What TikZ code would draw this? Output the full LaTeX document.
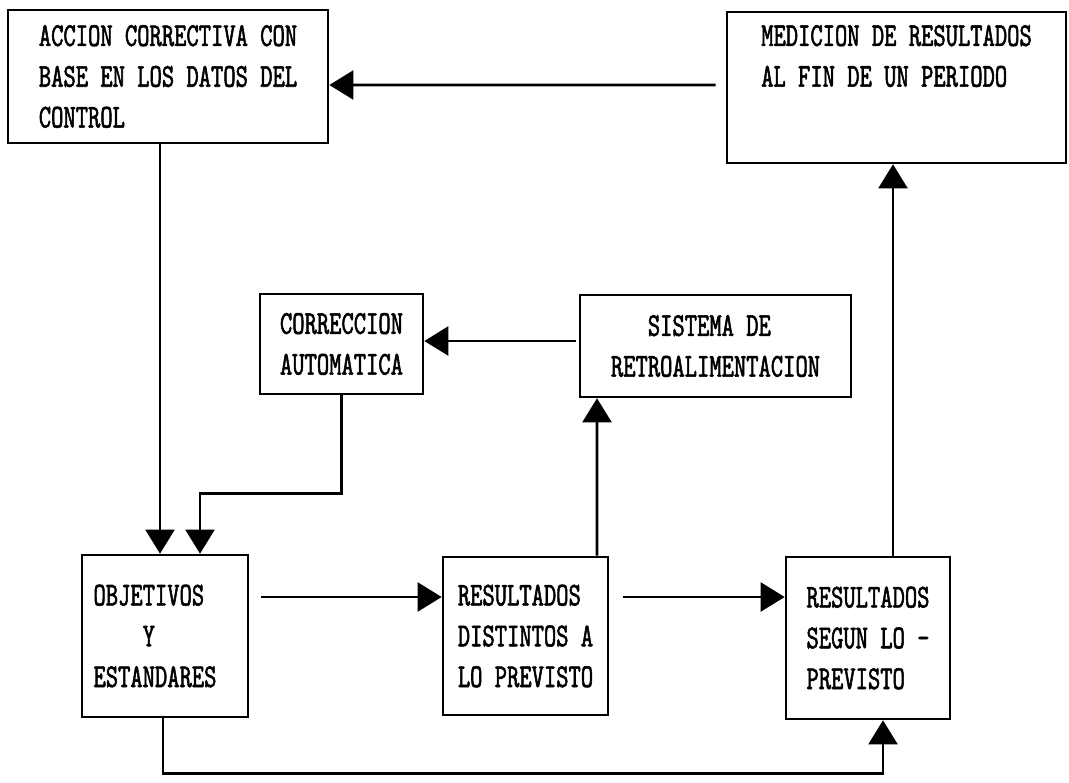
\documentclass[tikz,border=0pt]{standalone}
\usepackage{fontspec}
\setmonofont[FakeStretch=0.7,FakeBold=1.6]{lmmono10-regular.otf}
\usetikzlibrary{arrows.meta}

\begin{document}
\begin{tikzpicture}[x=0.025cm, y=-0.025cm,
	block/.style={draw, rectangle, line width=1.8pt, align=left, inner sep=0pt, font=\ttfamily\fontsize{23.8}{29}\selectfont},
	flow/.style={-{Triangle[length=0.6cm,width=0.72cm]}, line width=2pt}]
	\useasboundingbox (0,0) rectangle (1069,782);

	\node[block, minimum width=8cm, minimum height=3.325cm] (acc) at (168,76.5) {ACCION CORRECTIVA CON\\BASE EN LOS DATOS DEL\\CONTROL};
	\node[block, minimum width=8.475cm, minimum height=3.775cm] (med) at (896.5,87.5) {MEDICION DE RESULTADOS\\AL FIN DE UN PERIODO\\[16pt]\mbox{}};
	\node[block, minimum width=4.075cm, minimum height=2.5cm] (corr) at (341.5,344) {CORRECCION\\AUTOMATICA};
	\node[block, minimum width=6.775cm, minimum height=2.55cm] (sist) at (715.5,346) {\phantom{XXX}SISTEMA DE\\RETROALIMENTACION};
	\node[block, minimum width=4.15cm, minimum height=4.05cm] (obj) at (165,636) {OBJETIVOS\\\phantom{XXXX}Y\\ESTANDARES\hspace*{0.5cm}};
	\node[block, minimum width=4.125cm, minimum height=3.95cm] (dist) at (525.5,636) {RESULTADOS\\DISTINTOS A\\LO PREVISTO};
	\node[block, minimum width=4.1cm, minimum height=4.05cm] (segun) at (868,638) {RESULTADOS\\SEGUN LO -\\PREVISTO};

	\draw[flow] ([shift={(-10,-2.5)}]med.west) -- ([shift={(0,8.5)}]acc.east);
	\draw[flow] ([shift={(-8,0)}]acc.south) -- ([shift={(-5,0)}]obj.north);
	\draw[flow] (corr.south) -- ++(0,98) -| ([shift={(35,0)}]obj.north);
	\draw[flow] ([shift={(-3,-5)}]sist.west) -- ([shift={(0,-3)}]corr.east);
	\draw[flow] ([shift={(71.5,0)}]dist.north) -- ([shift={(-118.5,0)}]sist.south);
	\draw[flow] ([shift={(25,0)}]segun.north) -- ([shift={(-3.5,0)}]med.south);
	\draw[flow] ([shift={(12,-39)}]obj.east) -- ([shift={(0,-39)}]dist.west);
	\draw[flow] ([shift={(14,-39)}]dist.east) -- ([shift={(0,-41)}]segun.west);
	\draw[flow] ([shift={(-2,0)}]obj.south) -- ++(0,55) -| ([shift={(15,0)}]segun.south);
\end{tikzpicture}
\end{document}
